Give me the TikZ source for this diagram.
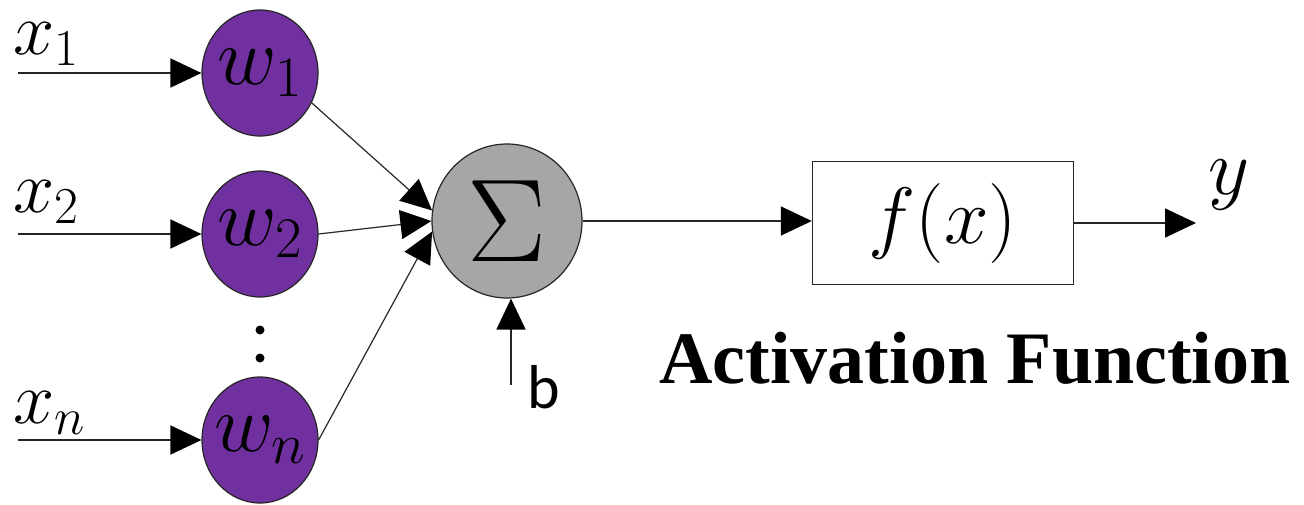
\RequirePackage{fix-cm}
\documentclass[tikz,border=0pt]{standalone}
\usepackage{fontspec}
\newfontfamily\actfont{Liberation Serif}
\newfontfamily\bfont{Carlito}
\usetikzlibrary{arrows.meta,shapes.geometric}
\definecolor{wpurple}{HTML}{7030A0}
\definecolor{sgray}{HTML}{A6A6A6}
\definecolor{linec}{HTML}{262626}
\begin{document}
\begin{tikzpicture}[x=1pt,y=-1pt,
  conn/.style={draw=linec,line width=1.6pt,-{Triangle[length=31pt,width=29pt,fill=black,color=black]}},
  wnode/.style={ellipse,draw=linec,line width=1.2pt,fill=wpurple,minimum width=116pt,minimum height=126pt,inner sep=0pt},
  wtext/.style={inner sep=0pt,font=\fontsize{82}{88}\selectfont},
  lab/.style={inner sep=0pt,font=\fontsize{74}{80}\selectfont}]
\useasboundingbox (0,0) rectangle (1304,504);
\node[wnode] (w1) at (260,73) {};
\node[wnode] (w2) at (260,234) {};
\node[wnode] (wn) at (260,440) {};
\node[wtext] (t1) at (w1) {$w_1$};
\node[wtext] (t2) at (w2) {$w_2$};
\node[wtext] (tn) at (wn) {$w_n$};
\fill (260,330) circle (4.5pt);
\fill (260,358) circle (4.5pt);
\node[ellipse,draw=linec,line width=1.2pt,fill=sgray,minimum width=150pt,minimum height=154pt,inner sep=0pt] (s) at (507,221) {};
\node[inner sep=0pt,font=\fontsize{118}{120}\selectfont] (st) at (s) {$\Sigma$};
\node[draw=linec,line width=1.4pt,minimum width=261pt,minimum height=123pt,inner sep=0pt,font=\fontsize{80}{86}\selectfont] (box) at (943,223) {$f(x)$};
\coordinate (i1) at (18,73);
\coordinate (i2) at (18,234);
\coordinate (in) at (18,440);
\coordinate (bs) at (511,385);
\coordinate (yo) at (1196,223);
\node[lab,anchor=base west] (x1) at (13,54) {$x_1$};
\node[lab,anchor=base west] (x2) at (13,212) {$x_2$};
\node[lab,anchor=base west] (xn) at (13,423) {$x_n$};
\node[lab,anchor=base west,font=\fontsize{80}{86}\selectfont] (yl) at (1208,194) {$y$};
\node[inner sep=0pt,anchor=base west,font=\bfont\fontsize{62}{70}\selectfont] (bl) at (527,408) {b};
\node[inner sep=0pt,anchor=base,font=\actfont\bfseries\fontsize{74}{80}\selectfont] (act) at (975,383) {Activation Function};
\draw[conn] (i1) -- (w1);
\draw[conn] (i2) -- (w2);
\draw[conn] (in) -- (wn);
\draw[conn,line width=1.2pt] (w1.-30) -- (s.172);
\draw[conn,line width=1.2pt] (w2.east) -- (s.180);
\draw[conn,line width=1.2pt] (wn.east) -- (s.188);
\draw[conn] (bs) -- (bs |- s.south);
\draw[conn] (s.east) -- (s.east -| box.west);
\draw[conn] (box.east) -- (yo);
\end{tikzpicture}
\end{document}
